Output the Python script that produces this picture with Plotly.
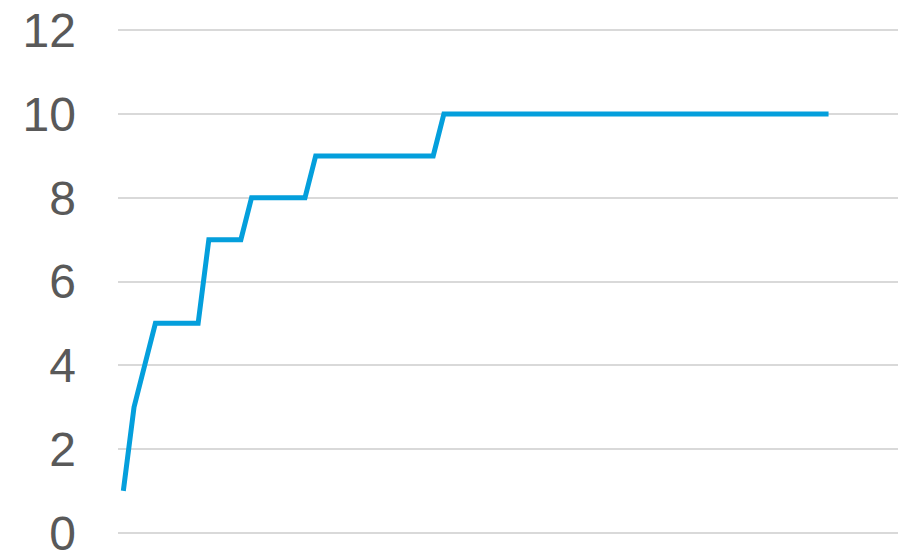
import plotly.graph_objects as go

# Category positions (73 slots on the axis, 67 with data)
categories = list(range(67))
n_slots = 73
values = [1, 3, 4, 5, 5, 5, 5, 5, 7, 7, 7, 7, 8, 8, 8, 8, 8, 8,
          9, 9, 9, 9, 9, 9, 9, 9, 9, 9, 9, 9,
          10, 10, 10, 10, 10, 10, 10, 10, 10, 10, 10, 10, 10, 10, 10, 10, 10, 10, 10,
          10, 10, 10, 10, 10, 10, 10, 10, 10, 10, 10, 10, 10, 10, 10, 10, 10, 10]
y_ticks = [0, 2, 4, 6, 8, 10, 12]

fig = go.Figure()
fig.add_trace(go.Scatter(
    x=categories, y=values, mode="lines",
    line=dict(color="#049fdc", width=5),
    hoverinfo="skip",
))

fig.update_layout(
    width=909, height=551,
    margin=dict(l=118, r=11, t=29, b=17, autoexpand=False),
    paper_bgcolor="white", plot_bgcolor="white",
    showlegend=False,
    font=dict(family="Liberation Sans, Arial, sans-serif", color="#595959"),
)
fig.update_xaxes(
    range=[-0.5, n_slots - 0.5], showgrid=False, showticklabels=False,
    zeroline=False, showline=False, ticks="", automargin=False,
)
fig.update_yaxes(
    range=[-0.03, 12.03], tickvals=y_ticks, ticktext=[str(v) for v in y_ticks],
    showgrid=True, gridcolor="#d9d9d9", gridwidth=1.8,
    zeroline=False,
    showline=False, ticks="", ticklabelstandoff=41, automargin=False,
    ticklabeloverflow="allow",
    tickfont=dict(size=48, color="#595959"),
)

fig.write_html(
    "out.html",
    config={"displayModeBar": False},
    post_script="document.body.style.margin='0';document.body.style.overflow='hidden';",
)
